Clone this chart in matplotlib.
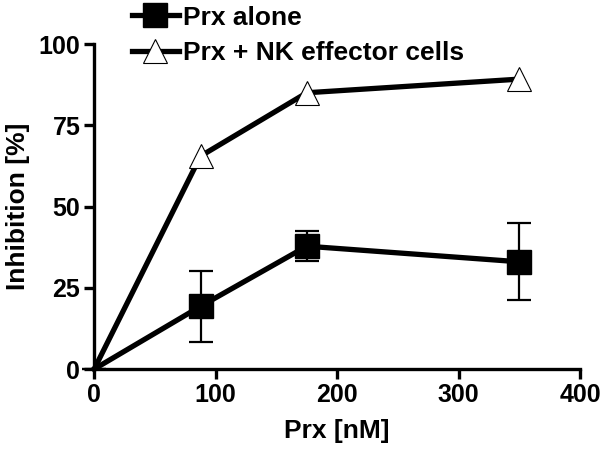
import matplotlib
matplotlib.use("Agg")
import matplotlib.pyplot as plt
from matplotlib.lines import Line2D

plt.rcParams['font.family'] = ['Liberation Sans', 'DejaVu Sans']
plt.rcParams['font.weight'] = 'bold'

# data
prx = [0, 87.5, 175, 350]
alone = [0, 19.3, 37.8, 33.0]
alone_err = [0, 11.0, 4.6, 11.8]
nk = [0, 65.5, 85.0, 89.2]

fig = plt.figure(figsize=(6, 4.49), dpi=100)
ax = fig.add_axes([0.157, 0.178, 0.81, 0.724])

ax.errorbar(prx, alone, yerr=alone_err, color='black', lw=3.8, marker='s',
            ms=17, markevery=[1, 2, 3], ecolor='black', elinewidth=1.6,
            capsize=8.5, capthick=1.6, clip_on=False)
ax.plot(prx, nk, color='black', lw=3.8, marker='^', ms=17, mfc='white',
        mec='black', mew=0.8, markevery=[1, 2, 3], clip_on=False)

ax.set_xlim(0, 400)
ax.set_ylim(0, 100)
ax.set_xticks([0, 100, 200, 300, 400])
ax.set_yticks([0, 25, 50, 75, 100])
for s in ['top', 'right']:
    ax.spines[s].set_visible(False)
for s in ['left', 'bottom']:
    ax.spines[s].set_linewidth(2.4)
ax.tick_params(width=2.4, length=7, labelsize=18, pad=3)
for t in ax.get_xticklabels() + ax.get_yticklabels():
    t.set_fontweight('bold')
ax.set_xlabel('Prx [nM]', fontsize=19, fontweight='bold', labelpad=9)
ax.set_ylabel('Inhibition [%]', fontsize=19, fontweight='bold', labelpad=6)

handles = [
    Line2D([], [], color='black', lw=3.8, marker='s', ms=17),
    Line2D([], [], color='black', lw=3.8, marker='^', ms=17, mfc='white', mec='black', mew=0.8),
]
labels = ['Prx alone', 'Prx + NK effector cells']
fig.legend(handles, labels, loc='upper left', bbox_to_anchor=(0.195, 1.02),
           frameon=False, fontsize=19, handlelength=1.8, handletextpad=0.15,
           labelspacing=0.45, borderpad=0.05)

fig.savefig('out.png', dpi=100)
